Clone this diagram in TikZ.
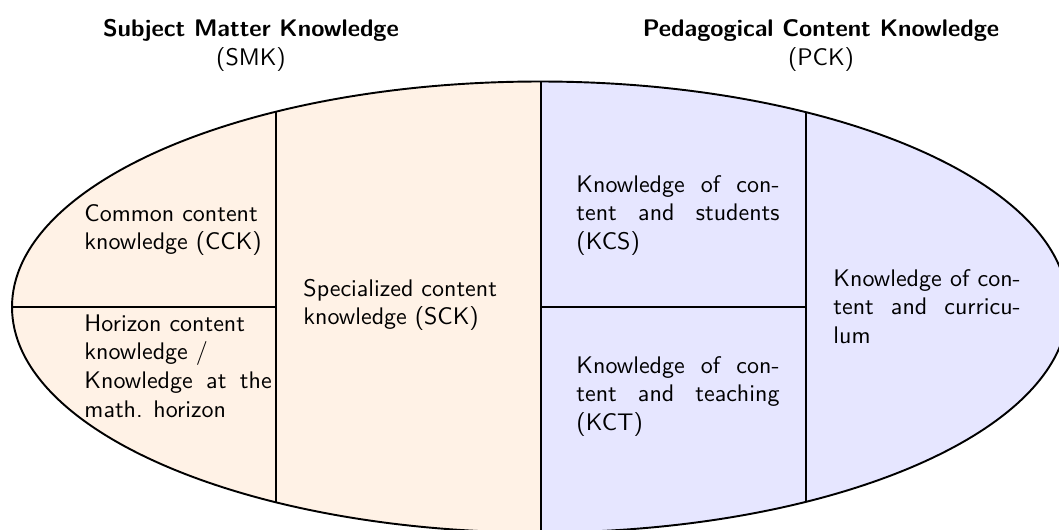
\documentclass[tikz,border=0pt]{standalone}
\definecolor{smkfill}{RGB}{255,242,230}
\definecolor{pckfill}{RGB}{230,230,255}
\tikzset{
  divider/.style={line width=0.8pt, black},
  lbl/.style={font=\sffamily, inner sep=0pt, anchor=base west, align=justify},
  ttl/.style={font=\sffamily, inner sep=0pt, align=center, anchor=base},
}
\begin{document}
\begin{tikzpicture}[x=0.41667pt,y=-0.41667pt]
\useasboundingbox (0,0) rectangle (1059,529);
\clip (0,0) rectangle (1059,529);
\coordinate (C) at (540,307);
\begin{scope}
  \clip (C) ellipse [x radius=220pt, y radius=93.96pt];
  \fill[smkfill] (0,0) rectangle (541,560);
  \fill[pckfill] (541,0) rectangle (1100,560);
  \draw[divider] (276,0) -- (276,560);
  \draw[divider] (541,0) -- (541,560);
  \draw[divider] (806,0) -- (806,560);
  \draw[divider] (0,307) -- (276,307);
  \draw[divider] (541,307) -- (806,307);
\end{scope}
\draw[divider] (C) ellipse [x radius=220pt, y radius=93.96pt];

\node[ttl] (smk) at (251,65) {\textbf{Subject Matter Knowledge}\\(SMK)};
\node[ttl] (pck) at (821,65) {\textbf{Pedagogical Content Knowledge}\\(PCK)};

\node[lbl, text width=76pt] (cck) at (84,221) {Common content\newline knowledge (CCK)};
\node[lbl, text width=78pt] (hck) at (84,331) {Horizon content\newline knowledge /\newline Knowledge at the math. horizon};
\node[lbl, text width=82pt] (sck) at (303,296) {Specialized content\newline knowledge (SCK)};
\node[lbl, text width=84.6pt] (kcs) at (576,192) {Knowledge of con-\linebreak tent and students\linebreak (KCS)};
\node[lbl, text width=84.6pt] (kct) at (576,373) {Knowledge of con-\linebreak tent and teaching\linebreak (KCT)};
\node[lbl, text width=78pt] (kcc) at (833,286) {Knowledge of con-\linebreak tent and curricu-\linebreak lum};
\end{tikzpicture}
\end{document}
